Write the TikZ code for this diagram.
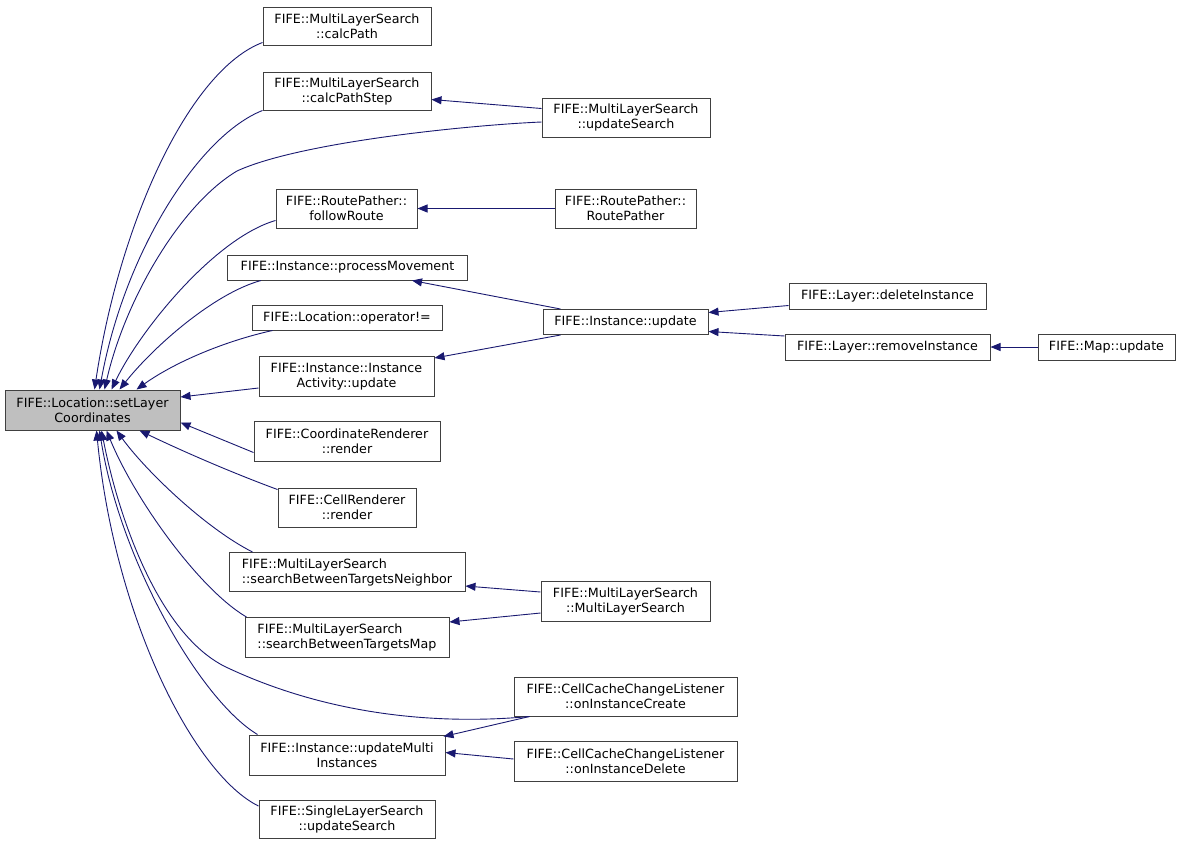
\documentclass[tikz,border=0pt]{standalone}
\usepackage{fontspec}
\setmainfont{DejaVu Sans}
\usetikzlibrary{arrows.meta}
\definecolor{grey25}{HTML}{404040}
\definecolor{grey75}{HTML}{BFBFBF}
\definecolor{navy}{HTML}{191970}
\tikzset{
  box/.style={draw=grey25, line width=1pt, fill=white, inner sep=0pt, align=center,
    font=\fontsize{12.7}{15}\selectfont, text=black},
  edge/.style={draw=navy, line width=0.9pt, -{Triangle[length=10pt,width=8pt]}},
}
\begin{document}
\begin{tikzpicture}[x=1pt,y=-1pt]
\useasboundingbox (0,0) rectangle (1180,847);
% nodes
\node[box, fill=grey75, minimum width=175pt, minimum height=40pt] (setLayer) at (92.5,410) {FIFE::Location::setLayer\\Coordinates};
\node[box, minimum width=168pt, minimum height=38pt] (calcPath) at (347,26) {FIFE::MultiLayerSearch\\::calcPath};
\node[box, minimum width=168pt, minimum height=38pt] (calcPathStep) at (347,91) {FIFE::MultiLayerSearch\\::calcPathStep};
\node[box, minimum width=168pt, minimum height=39pt] (mlsUpdate) at (626,117.5) {FIFE::MultiLayerSearch\\::updateSearch};
\node[box, minimum width=141pt, minimum height=39pt] (followRoute) at (346.5,208.5) {FIFE::RoutePather::\\followRoute};
\node[box, minimum width=141pt, minimum height=39pt] (routePather) at (625.5,208.5) {FIFE::RoutePather::\\RoutePather};
\node[box, minimum width=240pt, minimum height=25pt] (processMovement) at (347.5,267.5) {FIFE::Instance::processMovement};
\node[box, minimum width=190pt, minimum height=25pt] (opNeq) at (347,317.5) {FIFE::Location::operator!=};
\node[box, minimum width=165pt, minimum height=25pt] (instUpdate) at (625.5,322) {FIFE::Instance::update};
\node[box, minimum width=197pt, minimum height=26pt] (deleteInstance) at (887.5,296) {FIFE::Layer::deleteInstance};
\node[box, minimum width=205pt, minimum height=26pt] (removeInstance) at (887.5,347) {FIFE::Layer::removeInstance};
\node[box, minimum width=137pt, minimum height=26pt] (mapUpdate) at (1106.5,347) {FIFE::Map::update};
\node[box, minimum width=175pt, minimum height=40pt] (activity) at (346.5,376.5) {FIFE::Instance::Instance\\Activity::update};
\node[box, minimum width=186pt, minimum height=40pt] (coordRenderer) at (347,441.5) {FIFE::CoordinateRenderer\\::render};
\node[box, minimum width=138pt, minimum height=39pt] (cellRenderer) at (347,507.5) {FIFE::CellRenderer\\::render};
\node[box, align=left, minimum width=236pt, minimum height=39pt] (searchNeighbor) at (347,572) {FIFE::MultiLayerSearch\\::searchBetweenTargetsNeighbor};
\node[box, minimum width=169pt, minimum height=40pt] (mlsCtor) at (625.5,601.5) {FIFE::MultiLayerSearch\\::MultiLayerSearch};
\node[box, align=left, minimum width=204pt, minimum height=40pt] (searchMap) at (347,637.5) {FIFE::MultiLayerSearch\\::searchBetweenTargetsMap};
\node[box, minimum width=223pt, minimum height=39pt] (onCreate) at (625.5,696.5) {FIFE::CellCacheChangeListener\\::onInstanceCreate};
\node[box, minimum width=196pt, minimum height=40pt] (updateMulti) at (347,755) {FIFE::Instance::updateMulti\\Instances};
\node[box, minimum width=223pt, minimum height=40pt] (onDelete) at (625.5,761.5) {FIFE::CellCacheChangeListener\\::onInstanceDelete};
\node[box, minimum width=176pt, minimum height=38pt] (slsUpdate) at (347,819.5) {FIFE::SingleLayerSearch\\::updateSearch};
% edges into setLayer (top)
\draw[edge] ([yshift=3pt]calcPath.south west) .. controls (190,70) and (120,220) .. ([xshift=90pt]setLayer.north west);
\draw[edge] (calcPathStep.south west) .. controls (200,135) and (125,250) .. ([xshift=95pt]setLayer.north west);
\coordinate (mlsMid) at (237,171);
\draw[edge] ([yshift=-4.5pt]mlsUpdate.west) .. controls (470,125) and (300,142) .. (mlsMid) .. controls (180,205) and (125,300) .. ([xshift=100pt]setLayer.north west);
\draw[edge] ([yshift=-12pt]followRoute.west) .. controls (215,238) and (140,330) .. ([xshift=107pt]setLayer.north west);
\draw[edge] ([xshift=34pt]processMovement.south west) .. controls (215,293) and (155,345) .. ([xshift=115pt]setLayer.north west);
\draw[edge] ([xshift=21pt]opNeq.south west) .. controls (225,341) and (175,362) .. ([xshift=132pt]setLayer.north west);
% right side
\draw[edge] ([yshift=-11.5pt]activity.west) -- ([yshift=-7.5pt]setLayer.north east);
\draw[edge] ([yshift=-11pt]coordRenderer.west) -- ([yshift=8pt]setLayer.south east);
% edges into setLayer (bottom)
\draw[edge] ([yshift=-2pt]cellRenderer.north west) .. controls (230,472) and (180,450) .. ([xshift=135pt]setLayer.south west);
\draw[edge] ([xshift=24pt]searchNeighbor.north west) .. controls (205,528) and (145,470) .. ([xshift=112pt]setLayer.south west);
\draw[edge] ([xshift=2pt]searchMap.north west) .. controls (200,590) and (135,500) .. ([xshift=102pt]setLayer.south west);
\coordinate (createMid) at (228,668);
\draw[edge] ([xshift=16pt]onCreate.south west) .. controls (470,722) and (350,725) .. (createMid) .. controls (162,638) and (120,525) .. ([xshift=97pt]setLayer.south west);
\draw[edge] ([xshift=9pt]updateMulti.north west) .. controls (200,700) and (120,560) .. ([xshift=95pt]setLayer.south west);
\draw[edge] ([yshift=-6pt]slsUpdate.north west) .. controls (195,775) and (115,620) .. ([xshift=92pt]setLayer.south west);
% other edges
\draw[edge] ([yshift=-11pt]mlsUpdate.north west) -- ([yshift=11pt]calcPathStep.south east);
\draw[edge] (routePather) -- (followRoute);
\draw[edge] ([xshift=18pt]instUpdate.north west) -- ([xshift=-56pt]processMovement.south east);
\draw[edge] ([xshift=18pt]instUpdate.south west) -- ([yshift=-2pt]activity.north east);
\draw[edge] ([yshift=4pt]deleteInstance.south west) -- ([yshift=-3.5pt]instUpdate.north east);
\draw[edge] ([yshift=-2.5pt]removeInstance.north west) -- ([yshift=3.5pt]instUpdate.south east);
\draw[edge] (mapUpdate) -- (removeInstance);
\draw[edge] ([yshift=-11pt]mlsCtor.north west) -- ([yshift=6pt]searchNeighbor.south east);
\draw[edge] ([yshift=9pt]mlsCtor.south west) -- ([yshift=-5pt]searchMap.north east);
\draw[edge] ([xshift=16pt]onCreate.south west) -- ([yshift=-2pt,xshift=-2pt]updateMulti.north east);
\draw[edge] ([yshift=2.5pt]onDelete.west) -- ([yshift=2.5pt]updateMulti.east);
\end{tikzpicture}
\end{document}
